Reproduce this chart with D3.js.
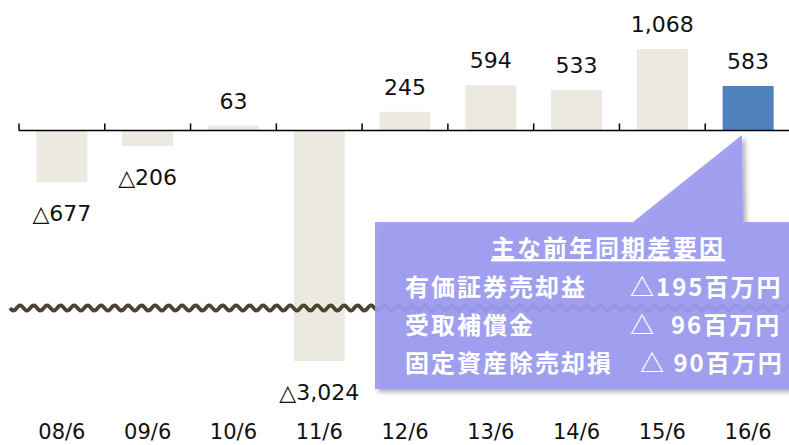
<!DOCTYPE html>
<html>
<head>
<meta charset="utf-8">
<script src="https://cdn.jsdelivr.net/npm/d3@7"></script>
<style>
body { margin: 0; background: #fff; }
svg { display: block; }
</style>
</head>
<body>
<svg id="chart" width="789" height="445"></svg>
<script>
var categories = ["08/6", "09/6", "10/6", "11/6", "12/6", "13/6", "14/6", "15/6", "16/6"];
var values = [-677, -206, 63, -3024, 245, 594, 533, 1068, 583];
var causeTitle = "主な前年同期差要因";
var causeNames = ["有価証券売却益", "受取補償金", "固定資産除売却損"];
var causeValues = ["△195百万円", "△  96百万円", "△ 90百万円"];

var svg = d3.select('#chart');

// equal slots between the ticks, bars centred in each slot
var x = d3.scaleBand()
	.domain(categories)
	.range([19, 791])
	.paddingInner(0)
	.paddingOuter(0);
var slot = x.bandwidth();
var barW = 51;

var y = d3.scaleLinear()
	.domain([-3024, 1068])
	.range([361, 49]);

function fmt(v){
	var s = d3.format(",")(Math.abs(v));
	return v < 0 ? "△" + s : s;
}

var shadow = svg.append('defs').append('filter')
	.attr('id', 'shadow')
	.attr('x', '-10%').attr('y', '-10%')
	.attr('width', '130%').attr('height', '130%');
shadow.append('feDropShadow')
	.attr('dx', 3).attr('dy', 3)
	.attr('stdDeviation', 2.5)
	.attr('flood-color', '#000')
	.attr('flood-opacity', 0.35);

// bars
svg.append('g').selectAll('rect')
	.data(values)
	.enter().append('rect')
		.attr('x', (d, i) => x(categories[i]) + (slot - barW) / 2)
		.attr('width', barW)
		.attr('y', d => d > 0 ? y(d) : y(0))
		.attr('height', d => Math.abs(y(d) - y(0)))
		.attr('fill', (d, i) => i == values.length - 1 ? '#4F81BD' : '#ECEAE0');

// axis line and ticks pointing up
var axisG = svg.append('g');
axisG.append('line')
	.attr('x1', 19).attr('x2', 791)
	.attr('y1', y(0)).attr('y2', y(0))
	.attr('stroke', '#000').attr('stroke-width', 1.5);
axisG.selectAll('line.tick')
	.data(categories.concat([null]))
	.enter().append('line')
		.attr('class', 'tick')
		.attr('x1', d => d ? x(d) : 791).attr('x2', d => d ? x(d) : 791)
		.attr('y1', y(0) - 7).attr('y2', y(0))
		.attr('stroke', '#000').attr('stroke-width', 1.5);

// value labels
svg.append('g').selectAll('text')
	.data(values)
	.enter().append('text')
		.attr('x', (d, i) => x(categories[i]) + slot / 2)
		.attr('y', d => d > 0 ? y(d) - 17 : y(d) + 39)
		.attr('text-anchor', 'middle')
		.attr('font-family', 'DejaVu Sans')
		.attr('font-size', 22)
		.attr('fill', '#111')
		.text(d => fmt(d));

// category labels
svg.append('g').selectAll('text')
	.data(categories)
	.enter().append('text')
		.attr('x', d => x(d) + slot / 2)
		.attr('y', 439)
		.attr('text-anchor', 'middle')
		.attr('font-family', 'DejaVu Sans')
		.attr('font-size', 21)
		.attr('fill', '#111')
		.text(d => d);

// break mark (wavy line)
var wave = [];
for(var px = 10; px <= 789; px += 1)
	wave.push([px, 308 + 2.6 * Math.sin((px - 10) / 13.5 * 2 * Math.PI)]);
svg.append('path')
	.attr('d', d3.line()(wave))
	.attr('fill', 'none')
	.attr('stroke', '#4A4430')
	.attr('stroke-width', 3.8);

// callout
var callout = svg.append('g');
callout.append('path')
	.attr('d', 'M375,222 L633,222 L742,135 L743,222 L795,222 L795,389 L375,389 Z')
	.attr('fill', '#9D9BF0')
	.attr('fill-opacity', 0.93)
	.attr('filter', 'url(#shadow)');

callout.append('text')
	.attr('x', 608)
	.attr('y', 257)
	.attr('text-anchor', 'middle')
	.attr('font-family', 'Noto Sans CJK JP')
	.attr('font-weight', 'bold')
	.attr('font-size', 24)
	.attr('letter-spacing', 2)
	.attr('text-decoration', 'underline')
	.attr('fill', '#fff')
	.text(causeTitle);

callout.selectAll('text.name')
	.data(causeNames)
	.enter().append('text')
		.attr('class', 'name')
		.attr('x', 405)
		.attr('y', (d, i) => 296 + i * 38)
		.attr('font-family', 'Noto Sans CJK JP')
		.attr('font-weight', 'bold')
		.attr('font-size', 24)
		.attr('letter-spacing', 2)
		.attr('fill', '#fff')
		.text(d => d);

callout.selectAll('text.val')
	.data(causeValues)
	.enter().append('text')
		.attr('class', 'val')
		.attr('x', (d, i) => i == 2 ? 640 : 630)
		.attr('y', (d, i) => 296 + i * 38)
		.attr('font-family', 'Noto Sans CJK JP')
		.attr('font-weight', 'bold')
		.attr('font-size', 24)
		.attr('letter-spacing', 2)
		.style('white-space', 'pre')
		.attr('fill', '#fff')
		.text(d => d);
</script>
</body>
</html>
